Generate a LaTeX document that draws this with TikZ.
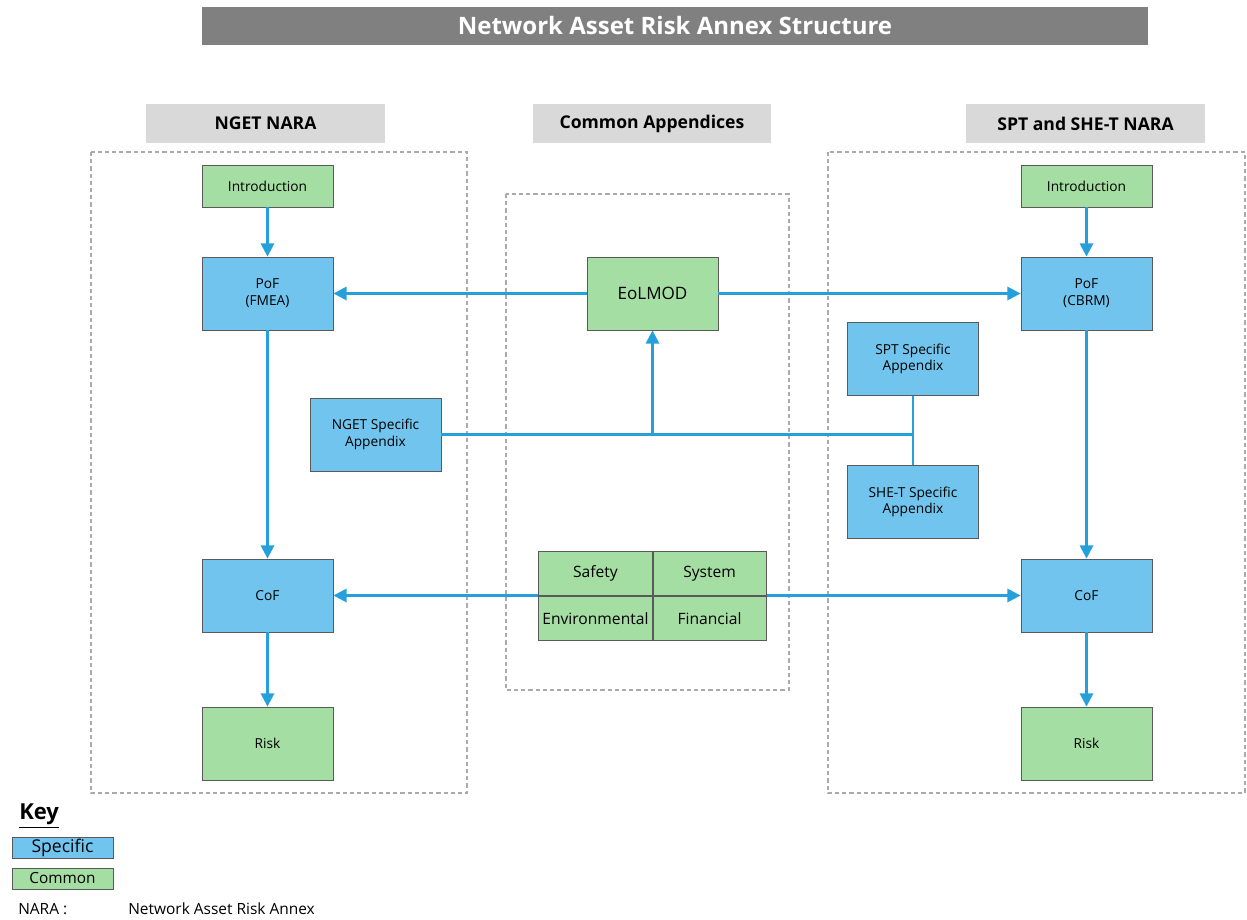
\documentclass[tikz,border=0pt]{standalone}
\usepackage{fontspec}
\setmainfont{Open Sans}
\usetikzlibrary{arrows.meta}
\definecolor{specblue}{RGB}{113,196,238}
\definecolor{commgreen}{RGB}{164,222,162}
\definecolor{linkblue}{RGB}{38,160,218}
\definecolor{boxedge}{RGB}{90,90,90}
\definecolor{hdrgray}{RGB}{217,217,217}
\definecolor{titlegray}{RGB}{128,128,128}
\definecolor{dashgray}{RGB}{170,170,170}
\tikzset{
  px/.style={x=0.75pt,y=-0.75pt},
  specbox/.style={draw=boxedge,line width=0.6pt,fill=specblue,minimum width=98.25pt,minimum height=54.75pt,align=center,font=\fontsize{10.3}{12.5}\selectfont,inner sep=0pt},
  commbox/.style={draw=boxedge,line width=0.6pt,fill=commgreen,minimum width=98.25pt,minimum height=54.75pt,align=center,font=\fontsize{10.3}{12.5}\selectfont,inner sep=0pt},
  hdr/.style={fill=hdrgray,minimum width=179pt,minimum height=29pt,font=\bfseries\fontsize{13.2}{15}\selectfont,inner sep=0pt},
  grp/.style={draw=dashgray,line width=1.4pt,dash pattern=on 3.2pt off 2.2pt},
  link/.style={draw=linkblue,line width=1.8pt},
  arr/.style={link,-{Triangle[length=10pt,width=10pt]}},
  gridcell/.style={draw=boxedge,line width=0.6pt,fill=commgreen,minimum width=85pt,minimum height=33pt,font=\fontsize{11.7}{14}\selectfont,inner sep=0pt},
}
\begin{document}
\begin{tikzpicture}[px]
\useasboundingbox (0,0) rectangle (1247,920);
% title
\node[fill=titlegray,minimum width=709.5pt,minimum height=28.5pt,text=white,font=\bfseries\fontsize{18}{21}\selectfont,inner sep=0pt] (title) at (675,26) {Network Asset Risk Annex Structure};
% headers
\node[hdr] (h1) at (265.5,123.5) {NGET NARA};
\node[hdr] (h2) at (652,123.5) {Common Appendices};
\node[hdr] (h3) at (1085.5,123.5) {SPT and SHE-T NARA};
% groups
\draw[grp] (91,152) rectangle (467,793);
\draw[grp] (506,194) rectangle (789,690);
\draw[grp] (828,152) rectangle (1245,793);
% left column
\node[commbox,minimum height=31.5pt] (lintro) at (267.5,186) {Introduction};
\node[specbox] (lpof) at (267.5,293.5) {PoF\\(FMEA)};
\node[specbox] (lcof) at (267.5,595.5) {CoF};
\node[commbox] (lrisk) at (267.5,743.5) {Risk};
\node[specbox] (ngetapp) at (375.5,434.5) {NGET Specific\\Appendix};
% center
\node[commbox,font=\fontsize{12.8}{15}\selectfont] (eol) at (652.5,293.5) {EoLMOD};
\node[gridcell,anchor=south east] (safety) at (652.5,596) {Safety};
\node[gridcell,anchor=south west] (system) at (652.5,596) {System};
\node[gridcell,anchor=north east] (env) at (652.5,596) {Environmental};
\node[gridcell,anchor=north west] (fin) at (652.5,596) {Financial};
% right column
\node[commbox,minimum height=31.5pt] (rintro) at (1086.5,186) {Introduction};
\node[specbox] (rpof) at (1086.5,293.5) {PoF\\(CBRM)};
\node[specbox] (sptapp) at (913,359) {SPT Specific\\Appendix};
\node[specbox] (shetapp) at (913,502) {SHE-T Specific\\Appendix};
\node[specbox] (rcof) at (1086.5,595.5) {CoF};
\node[commbox] (rrisk) at (1086.5,743.5) {Risk};
% connectors
\draw[arr] (lintro) -- (lpof);
\draw[arr] (lpof) -- (lcof);
\draw[arr] (lcof) -- (lrisk);
\draw[arr] (rintro) -- (rpof);
\draw[arr] (rpof) -- (rcof);
\draw[arr] (rcof) -- (rrisk);
\draw[arr] (eol) -- (lpof);
\draw[arr] (eol) -- (rpof);
\draw[arr] (safety.south west |- lcof.east) -- (lcof.east);
\draw[arr] (system.south east |- rcof.west) -- (rcof.west);
\coordinate (jn) at (913,434.5);
\coordinate (jc) at (652.5,434.5);
\draw[link] (ngetapp.east) -- (jn);
\draw[link] (sptapp.south) -- (shetapp.north);
\draw[arr] (jc) -- (eol.south);
% key
\node[anchor=west,font=\bfseries\fontsize{16.5}{19}\selectfont,inner sep=0pt] (key) at (19,816) {\underline{Key}};
\node[draw=boxedge,line width=0.6pt,fill=specblue,minimum width=75.75pt,minimum height=15.75pt,inner sep=0pt,font=\fontsize{13.2}{15}\selectfont] (kspec) at (62.5,847.5) {Specific};
\node[draw=boxedge,line width=0.6pt,fill=commgreen,minimum width=75.75pt,minimum height=15.75pt,inner sep=0pt,font=\fontsize{11.5}{13}\selectfont] (kcomm) at (62.5,878.5) {Common};
\node[anchor=west,font=\fontsize{11.6}{13}\selectfont,inner sep=0pt] (nara) at (18,909) {NARA :};
\node[anchor=west,font=\fontsize{11.6}{13}\selectfont,inner sep=0pt] (naradef) at (128,909) {Network Asset Risk Annex};
\end{tikzpicture}
\end{document}
